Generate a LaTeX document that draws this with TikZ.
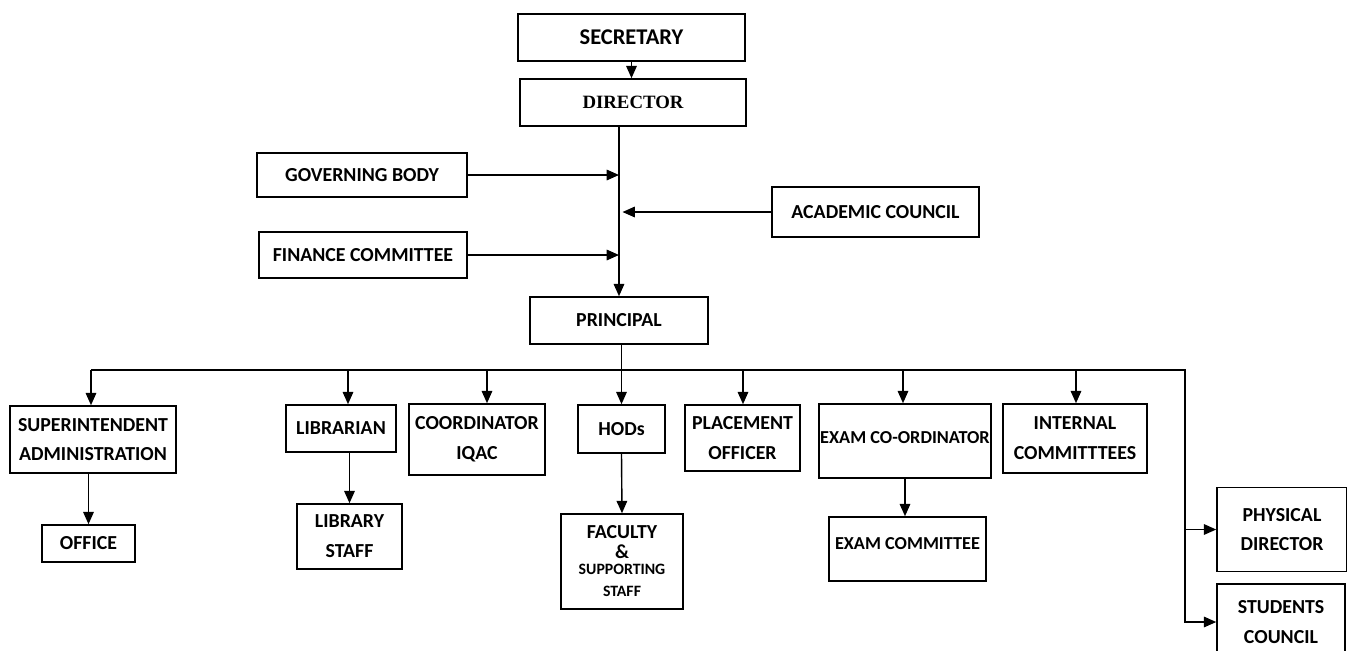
\documentclass[tikz,border=0pt]{standalone}
\usepackage{fontspec}
\setmainfont{Carlito}
\newfontfamily\dirfont{Liberation Serif}
\usetikzlibrary{arrows.meta}

\begin{document}
\begin{tikzpicture}[x=0.02cm, y=-0.02cm,
		box/.style={draw, line width=0.9pt, align=center, inner sep=0pt, font=\fontsize{11.3}{17}\selectfont\bfseries},
		link/.style={line width=0.8pt},
		arr/.style={link, -{Triangle[length=7pt, width=6pt]}}]
	\useasboundingbox (0,0) rectangle (1347,650);
		\node[box, minimum width=4.54cm, minimum height=0.94cm, font=\fontsize{12.8}{15}\selectfont\bfseries] (sec) at (631.5,37.5) {SECRETARY};
		\node[box, minimum width=4.52cm, minimum height=0.94cm] (dir) at (633,102.5) {\dirfont\fontsize{10.7}{13}\selectfont DIRECTOR};
		\node[box, minimum width=4.2cm, minimum height=0.88cm] (gov) at (362,175) {GOVERNING BODY};
		\node[box, minimum width=4.14cm, minimum height=1cm] (acad) at (875.5,212) {ACADEMIC COUNCIL};
		\node[box, minimum width=4.16cm, minimum height=0.92cm] (fin) at (363,255) {FINANCE COMMITTEE};
		\node[box, minimum width=3.56cm, minimum height=0.94cm] (prin) at (619,320.5) {PRINCIPAL};
		\node[box, minimum width=3.32cm, minimum height=1.34cm] (sup) at (93,439.5) {SUPERINTENDENT\\ADMINISTRATION};
		\node[box, minimum width=1.86cm, minimum height=0.74cm] (off) at (88.5,543.5) {OFFICE};
		\node[box, minimum width=2.2cm, minimum height=0.94cm] (lib) at (341,428.5) {LIBRARIAN};
		\node[box, minimum width=2.1cm, minimum height=1.3cm] (libst) at (349.5,536.5) {LIBRARY\\STAFF};
		\node[box, minimum width=2.72cm, minimum height=1.42cm] (iqac) at (477,439.5) {COORDINATOR\\IQAC};
		\node[box, minimum width=1.74cm, minimum height=0.96cm] (hod) at (621.5,429) {HODs};
		\node[box, minimum width=2.44cm, minimum height=1.9cm] (fac) at (622,561.5) {FACULTY\\[-6pt] \&\\[-8pt] {\fontsize{9}{11}\selectfont SUPPORTING}\\[-4pt] {\fontsize{9}{11}\selectfont STAFF}};
		\node[box, minimum width=2.3cm, minimum height=1.32cm] (plac) at (742.5,438) {PLACEMENT\\OFFICER};
		\node[box, minimum width=3.44cm, minimum height=1.48cm, text depth=3.5pt, font=\fontsize{10.4}{14}\selectfont\bfseries] (exco) at (905,441) {EXAM CO-ORDINATOR};
		\node[box, minimum width=3.14cm, minimum height=1.28cm, text depth=6pt, font=\fontsize{10.4}{14}\selectfont\bfseries] (exmc) at (907.5,549) {EXAM COMMITTEE};
		\node[box, minimum width=2.88cm, minimum height=1.38cm] (intc) at (1075,438.5) {INTERNAL\\COMMITTTEES};
		\node[box, minimum width=2.6cm, minimum height=1.68cm] (phys) at (1282,529.5) {PHYSICAL\\DIRECTOR};
		\node[box, minimum width=2.56cm, minimum height=1.52cm] (stud) at (1281,622) {STUDENTS\\COUNCIL};
		\draw[arr] (sec.south) -- (sec.south |- dir.north);
		\draw[arr] (dir.south -| prin.north) -- (prin.north);
		\draw[arr] (gov.east) -- (gov.east -| prin.north);
		\draw[arr] (fin.east) -- (fin.east -| prin.north);
		\draw[arr, shorten >=2pt] (acad.west) -- (acad.west -| prin.north);
		\coordinate (b-sup) at (91,370);
		\coordinate (b-lib) at (348,370);
		\coordinate (b-iqac) at (487,370);
		\coordinate (b-plac) at (743,370);
		\coordinate (b-exco) at (903,370);
		\coordinate (b-intc) at (1076,370);
		\coordinate (b-rt) at (1185,370);
		\draw[arr] (hod.north |- prin.south) -- (hod.north);
		\draw[arr] (b-sup) -- (b-rt) |- (stud.west);
		\draw[arr] (b-rt |- phys.west) -- (phys.west);
		\foreach \n in {sup, lib, iqac, plac, exco, intc}
			\draw[arr] (b-\n) -- (b-\n |- \n.north);
		\draw[arr] (off.north |- sup.south) -- (off.north);
		\draw[arr] (libst.north |- lib.south) -- (libst.north);
		\draw[arr] (hod.south) -- (fac.north);
		\draw[arr] (exco.south) -- (exco.south |- exmc.north);
	\end{tikzpicture}
\end{document}
